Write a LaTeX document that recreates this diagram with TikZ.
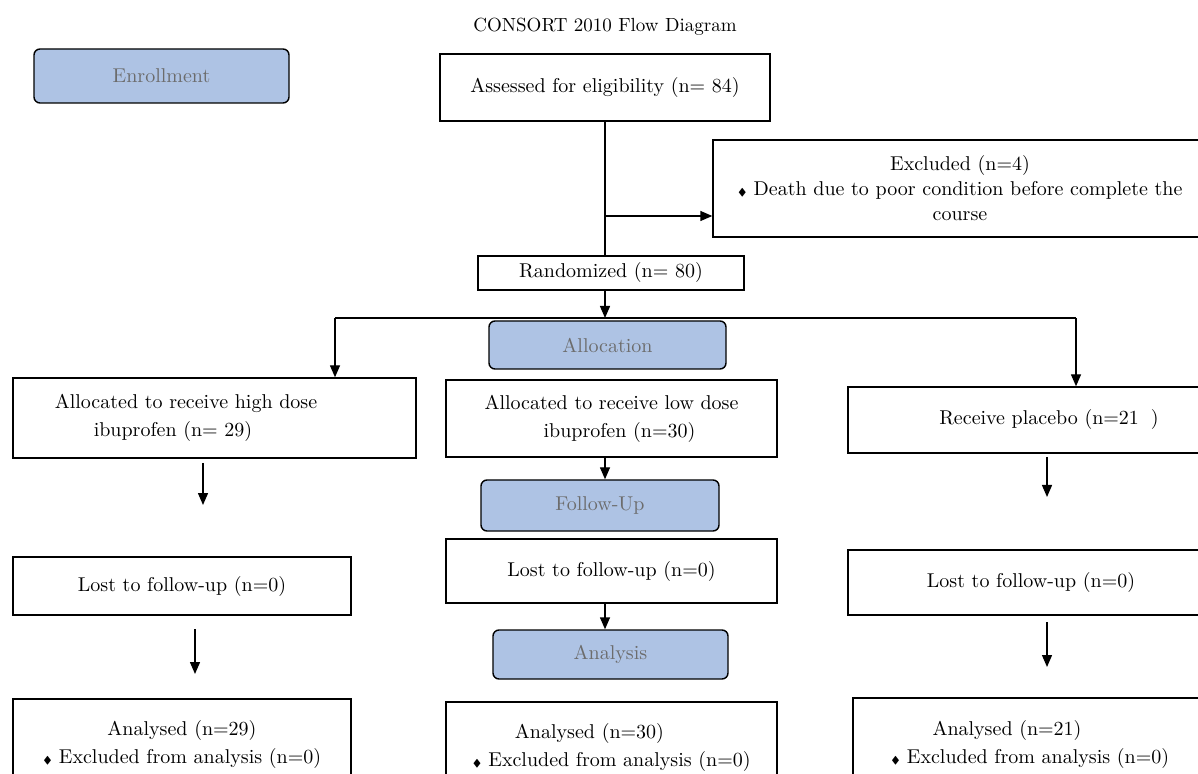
\documentclass[tikz,border=0pt]{standalone}
\usepackage{amssymb}
\usepackage{tikz}
\usetikzlibrary{arrows.meta,positioning,calc}
\definecolor{phasefill}{RGB}{174,195,228}
\definecolor{phasetext}{RGB}{108,108,108}
\newcommand{\bul}{{\tiny$\blacklozenge$}\ }
\newcommand{\padr}[1]{\makebox[#1]{}}

\begin{document}
\begin{tikzpicture}[x = 0.5pt, y = -0.5pt,
  box/.style = {draw, line width = 0.7pt, inner sep = 0pt, align = center, font = \fontsize{10}{14}\selectfont},
  phase/.style = {draw, line width = 0.7pt, rounded corners = 3pt, fill = phasefill, text = phasetext, inner sep = 0pt, font = \fontsize{10}{12}\selectfont},
  arr/.style = {-{Triangle[length = 6pt, width = 5pt]}, line width = 0.7pt},
  link/.style = {line width = 0.7pt}]
\useasboundingbox (0,0) rectangle (1198,774);
\clip (0,0) rectangle (1198,774);

\node[font = \fontsize{9.5}{11}\selectfont] (title) at (605,27) {CONSORT 2010 Flow Diagram};

% phases
\node[phase, minimum width = 127.5pt, minimum height = 27pt] (enroll) at (161.5,76) {Enrollment};
\node[phase, minimum width = 118.5pt, minimum height = 24pt] (alloc) at (607.5,345) {Allocation};
\node[phase, minimum width = 119pt, minimum height = 25.5pt] (follow) at (600,505.5) {Follow-Up};
\node[phase, minimum width = 117.5pt, minimum height = 24.5pt] (anal) at (610.5,654.5) {Analysis};

% enrollment
\node[box, minimum width = 165pt, minimum height = 33.5pt] (assess) at (605,87.5) {Assessed for eligibility (n= 84)};
\node[box, minimum width = 247pt, minimum height = 48.5pt, font = \fontsize{10}{12.5}\selectfont] (excl) at (960,188.5)
  {Excluded (n=4)\\\bul Death due to poor condition before complete the\\course};
\node[box, minimum width = 133pt, minimum height = 17pt] (rand) at (611,273) {Randomized (n= 80)};

% allocation
\node[box, minimum width = 201.5pt, minimum height = 40pt] (high) at (214.5,418)
  {Allocated to receive high dose\padr{28.5pt}\\ibuprofen (n= 29)\padr{41.5pt}};
\node[box, minimum width = 165.5pt, minimum height = 38.5pt] (low) at (611.5,418.5)
  {Allocated to receive low dose\\\padr{8pt}ibuprofen (n=30)};
\node[box, minimum width = 201pt, minimum height = 33pt] (plac) at (1049,420) {Receive placebo (n=21\hspace{6pt})};

% follow-up
\node[box, minimum width = 169pt, minimum height = 29pt] (lostl) at (182,586) {Lost to follow-up (n=0)};
\node[box, minimum width = 165.5pt, minimum height = 32pt] (lostm) at (611.5,571) {Lost to follow-up (n=0)};
\node[box, minimum width = 183pt, minimum height = 32.5pt] (lostr) at (1031,582.5) {Lost to follow-up (n=0)};

% analysis
\node[box, minimum width = 169pt, minimum height = 45.5pt] (resl) at (182,744.5)
  {Analysed (n=29)\\\bul Excluded from analysis (n=0)};
\node[box, minimum width = 165.5pt, minimum height = 45pt] (resm) at (611.5,747)
  {Analysed (n=30)\padr{22pt}\\\bul Excluded from analysis (n=0)};
\node[box, minimum width = 177pt, minimum height = 46pt] (resr) at (1030,744)
  {Analysed (n=21)\padr{23pt}\\\bul Excluded from analysis (n=0)};

% connectors
\coordinate (brk) at (605,216);
\coordinate (split) at (605,318);
\coordinate (splitl) at (335,318);
\coordinate (splitr) at (1076,318);
\draw[link] (assess.south) -- (assess.south |- rand.north);
\draw[arr] (brk) -- (brk -| excl.west);
\draw[arr] (split |- rand.south) -- (split);
\draw[link] (splitl) -- (splitr);
\draw[arr] (splitl) -- (splitl |- high.north);
\draw[arr] (splitr) -- (splitr |- plac.north);
\draw[arr] (split |- low.south) -- (split |- follow.north);
\draw[arr] (split |- lostm.south) -- (split |- anal.north);

\coordinate (l1a) at (203,463); \coordinate (l1b) at (203,505);
\coordinate (l2a) at (195,629); \coordinate (l2b) at (195,674);
\coordinate (r1a) at (1047,457); \coordinate (r1b) at (1047,497);
\coordinate (r2a) at (1047,622); \coordinate (r2b) at (1047,667);
\draw[arr] (l1a) -- (l1b);
\draw[arr] (l2a) -- (l2b);
\draw[arr] (r1a) -- (r1b);
\draw[arr] (r2a) -- (r2b);
\end{tikzpicture}
\end{document}
